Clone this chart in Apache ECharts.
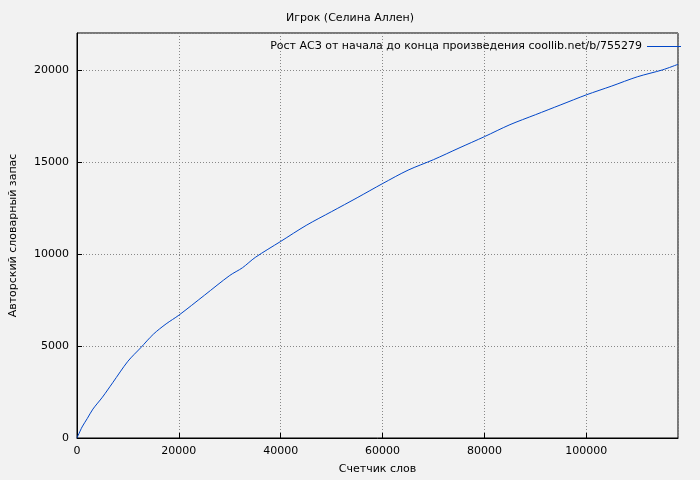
<!DOCTYPE html>
<html><head><meta charset="utf-8">
<script src="https://cdn.jsdelivr.net/npm/echarts@6/dist/echarts.min.js"></script>
<style>html,body{margin:0;padding:0;background:#f2f2f2}#c{width:700px;height:480px}</style>
</head><body><div id="c"></div>
<script>
const words = [0,1000,2000,3125,5000,7000,10000,12500,15000,17500,20000,25000,30000,32500,35000,40000,45000,50000,55000,60000,65000,70000,75000,80000,85000,90000,95000,100000,105000,110000,115000,118000];
const vocab = [0,600,1050,1570,2220,3000,4170,4900,5640,6200,6670,7750,8830,9250,9810,10680,11550,12300,13050,13820,14550,15120,15750,16370,17020,17560,18100,18640,19120,19620,20000,20300];
const xTicks = [0,20000,40000,60000,80000,100000];
const yTicks = [0,5000,10000,15000,20000];
const font = 'DejaVu Sans';
const legendName = 'Рост АСЗ от начала до конца произведения coollib.net/b/755279';
const chart = echarts.init(document.getElementById('c'));
chart.setOption({
  backgroundColor:'#f2f2f2',
  animation:false,
  textStyle:{fontFamily:font},
  title:{text:'Игрок (Селина Аллен)',left:'center',top:8,textStyle:{fontSize:11,fontWeight:'normal',color:'#000',fontFamily:font}},
  legend:{right:14,top:36,itemWidth:34,itemHeight:1,icon:'rect',itemGap:6,align:'right',
    textStyle:{fontSize:11,color:'#000',fontFamily:font},data:[legendName]},
  grid:{left:74,right:22,top:33,bottom:41,show:true,borderColor:'#000',borderWidth:1},
  xAxis:{type:'value',min:0,max:118000,interval:20000,name:'Счетчик слов',nameLocation:'middle',nameGap:26,
    nameTextStyle:{fontSize:11,color:'#000'},
    axisLine:{lineStyle:{color:'#000'}},axisTick:{inside:true,lineStyle:{color:'#000'}},
    axisLabel:{fontSize:11,color:'#000',showMaxLabel:false,formatter:v=>String(v)},
    splitLine:{show:true,lineStyle:{color:'#888',type:[1,2]}}},
  yAxis:{type:'value',min:0,max:22000,interval:5000,name:'Авторский словарный запас',nameLocation:'middle',nameGap:58,
    nameTextStyle:{fontSize:11,color:'#000'},
    axisLine:{lineStyle:{color:'#000'}},axisTick:{inside:true,lineStyle:{color:'#000'}},
    axisLabel:{fontSize:11,color:'#000',showMaxLabel:false,formatter:v=>String(v)},
    splitLine:{show:true,lineStyle:{color:'#888',type:[1,2]}}},
  series:[{name:legendName,type:'line',showSymbol:false,
    smooth:0.3,lineStyle:{color:'#0046c8',width:1},itemStyle:{color:'#0046c8'},
    data:words.map((w,i)=>[w,vocab[i]])}]
});
</script></body></html>
